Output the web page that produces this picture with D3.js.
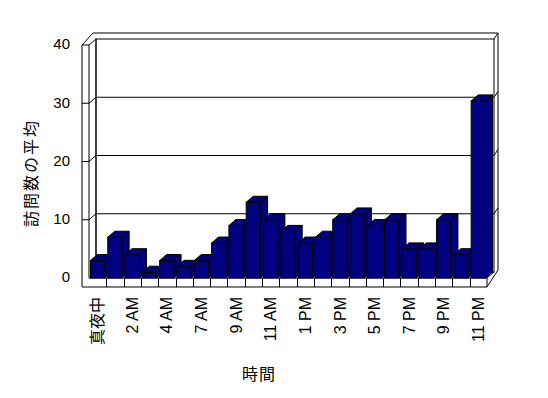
<!DOCTYPE html>
<html>
<head>
<meta charset="utf-8">
<script src="https://cdn.jsdelivr.net/npm/d3@7"></script>
<style>
  body { margin: 0; background: #fff; }
  svg { display: block; }
  text { font-family: "Liberation Sans", "Noto Sans CJK JP", sans-serif; fill: #000; }
</style>
</head>
<body>
<div id="chart"></div>
<script>
// hourly averages (one hour is absent in the source sheet)
var hours = ["真夜中", "1 AM", "2 AM", "3 AM", "4 AM", "5 AM", "7 AM", "8 AM", "9 AM", "10 AM", "11 AM", "12 PM",
             "1 PM", "2 PM", "3 PM", "4 PM", "5 PM", "6 PM", "7 PM", "8 PM", "9 PM", "10 PM", "11 PM"];
var visits = [3, 7, 4, 1, 3, 2, 3, 6, 9, 13, 10, 8, 6, 7, 10, 11, 9, 10, 5, 5, 10, 4, 30.4];
var yTicks = [0, 10, 20, 30, 40];
var yTitle = "訪問数の平均";
var xTitle = "時間";

var W = 548, H = 398;
var left = 89, right = 487;      // front plane of the plot
var outer = 82;                  // outer edge of the left wall
var floorBottom = 287;
var dx = 7, dy = -6;             // depth of bars
var tx = 4, ty = -6;             // wall thickness
var navy = "#000080";

var svg = d3.select("#chart").append("svg")
    .attr("width", W)
    .attr("height", H);

svg.append("rect").attr("width", W).attr("height", H).attr("fill", "#fff");

var x = d3.scaleBand()
    .domain(hours)
    .range([left, right])
    .paddingInner(0.17)
    .paddingOuter(0.085);

var y = d3.scaleLinear()
    .domain([0, 40])
    .range([278, 45]);

var y0 = y(0), yTop = y(40);
var step = x.step();

var frame = svg.append("g")
    .attr("fill", "none")
    .attr("stroke", "#000")
    .attr("stroke-width", 1);

function line(pts) {
  frame.append("path").attr("d", d3.line()(pts));
}

// back wall face
frame.append("rect")
    .attr("x", left + dx).attr("y", yTop + dy)
    .attr("width", right - left).attr("height", y0 - yTop)
    .attr("fill", "#fff");

// back wall thickness (top and right)
line([[outer + dx + tx, yTop + dy + ty], [right + dx + tx, yTop + dy + ty], [right + dx + tx, y0 + dy + ty + 4]]);
line([[right + dx, yTop + dy], [right + dx + tx, yTop + dy + ty]]);

// left wall: front face, inner face, top
line([[outer, yTop], [left, yTop]]);
line([[outer, yTop], [outer + dx + tx, yTop + dy + ty]]);
line([[left, yTop], [left + dx, yTop + dy]]);
line([[outer, yTop], [outer, floorBottom]]);
line([[left, yTop], [left, y0]]);
line([[left + dx, yTop + dy], [left + dx, y0 + dy]]);

// gridlines across left wall, back wall and right edge
yTicks.slice(1, -1).forEach(function(v) {
  var yy = y(v);
  line([[outer, yy], [left, yy], [left + dx, yy + dy], [right + dx, yy + dy], [right + dx + tx, yy + dy + ty]]);
});

// floor
line([[left + dx, y0 + dy], [right + dx, y0 + dy]]);
line([[left, y0], [right, y0], [right, floorBottom], [outer, floorBottom]]);
line([[right, y0], [right + dx, y0 + dy]]);
line([[right, floorBottom], [right + dx + tx, y0 + dy + ty + 4]]);

// category cells on the floor front
hours.forEach(function(h, i) {
  if (i === 0) return;
  var cx = Math.round(left + i * step) + 0.5;
  line([[cx, y0], [cx, floorBottom]]);
});

// 3D bars
var bars = svg.append("g")
    .selectAll("g")
    .data(visits)
    .enter()
    .append("g")
    .attr("fill", navy)
    .attr("stroke", "#000")
    .attr("stroke-width", 1);

bars.append("rect")
    .attr("x", function(d, i) { return x(hours[i]); })
    .attr("y", function(d) { return y(d); })
    .attr("width", x.bandwidth())
    .attr("height", function(d) { return y0 - y(d); });

bars.append("path")
    .attr("d", function(d, i) {
      var x0 = x(hours[i]), x1 = x0 + x.bandwidth(), t = y(d);
      return d3.line()([[x0, t], [x1, t], [x1 + dx, t + dy], [x0 + dx, t + dy]]) + "Z";
    });

bars.append("path")
    .attr("d", function(d, i) {
      var x1 = x(hours[i]) + x.bandwidth(), t = y(d);
      return d3.line()([[x1, t], [x1 + dx, t + dy], [x1 + dx, y0 + dy], [x1, y0]]) + "Z";
    });

// y axis labels
var yAxis = svg.append("g")
    .attr("transform", "translate(" + outer + ",-1)")
    .call(d3.axisLeft(y).tickValues(yTicks).tickSize(0).tickPadding(12));
yAxis.select(".domain").remove();
yAxis.selectAll("text")
    .attr("fill", "#000")
    .style("font-size", "15px")
    .style("font-family", "'Liberation Sans', sans-serif");

// x axis labels, every other hour, rotated
var xAxis = svg.append("g")
    .attr("transform", "translate(0," + floorBottom + ")")
    .call(d3.axisBottom(x).tickSize(0)
      .tickFormat(function(d, i) { return i % 2 === 0 ? d : ""; }));
xAxis.select(".domain").remove();
xAxis.selectAll("text")
    .attr("fill", "#000")
    .attr("transform", "rotate(-90)")
    .attr("x", -10)
    .attr("y", 0)
    .attr("dy", "0.35em")
    .style("text-anchor", "end")
    .style("font-size", "16px")
    .style("font-family", "'Liberation Sans', 'Noto Sans CJK JP', sans-serif");

// titles
svg.append("text")
    .attr("transform", "translate(37,173) rotate(-90)")
    .attr("text-anchor", "middle")
    .style("font-size", "16px")
    .style("letter-spacing", "2px")
    .text(yTitle);

svg.append("text")
    .attr("x", 259)
    .attr("y", 380)
    .attr("text-anchor", "middle")
    .style("font-size", "16px")
    .style("letter-spacing", "1px")
    .text(xTitle);
</script>
</body>
</html>
